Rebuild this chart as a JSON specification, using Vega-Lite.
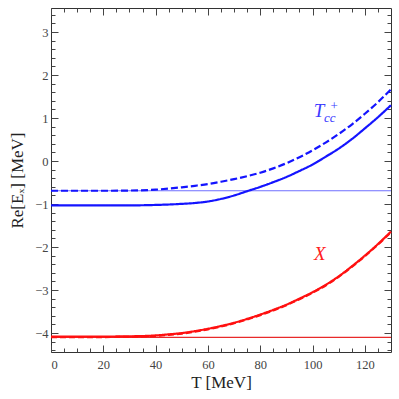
{
  "$schema": "https://vega.github.io/schema/vega-lite/v6.json",
  "width": 340,
  "height": 344,
  "autosize": {"type": "none"},
  "padding": {"left": 51, "top": 8, "right": 8, "bottom": 47},
  "background": "white",
  "config": {
    "view": {"stroke": "#333333", "strokeWidth": 1},
    "axis": {
      "grid": false,
      "domain": false,
      "labelFont": "Liberation Serif",
      "titleFont": "Liberation Serif",
      "tickColor": "#444444",
      "labelColor": "#444444",
      "titleColor": "#222222",
      "labelFontSize": 12.5,
      "titleFontSize": 17,
      "titleFontWeight": "normal",
      "tickWidth": 1
    }
  },
  "datasets": {
    "curves": [
      {"series": "Tcc", "T": 0, "v": -1.03}, {"series": "Tcc", "T": 10, "v": -1.03}, {"series": "Tcc", "T": 20, "v": -1.03},
      {"series": "Tcc", "T": 30, "v": -1.03}, {"series": "Tcc", "T": 40, "v": -1.02}, {"series": "Tcc", "T": 45, "v": -1.01},
      {"series": "Tcc", "T": 50, "v": -0.995}, {"series": "Tcc", "T": 55, "v": -0.975}, {"series": "Tcc", "T": 60, "v": -0.94},
      {"series": "Tcc", "T": 65, "v": -0.88}, {"series": "Tcc", "T": 70, "v": -0.80}, {"series": "Tcc", "T": 75, "v": -0.70},
      {"series": "Tcc", "T": 80, "v": -0.60}, {"series": "Tcc", "T": 85, "v": -0.49}, {"series": "Tcc", "T": 90, "v": -0.37},
      {"series": "Tcc", "T": 95, "v": -0.23}, {"series": "Tcc", "T": 100, "v": -0.08}, {"series": "Tcc", "T": 105, "v": 0.10},
      {"series": "Tcc", "T": 110, "v": 0.29}, {"series": "Tcc", "T": 115, "v": 0.51}, {"series": "Tcc", "T": 120, "v": 0.76},
      {"series": "Tcc", "T": 125, "v": 1.02}, {"series": "Tcc", "T": 130, "v": 1.30},
      {"series": "Tcc_dash", "T": 0, "v": -0.69}, {"series": "Tcc_dash", "T": 10, "v": -0.69}, {"series": "Tcc_dash", "T": 20, "v": -0.69},
      {"series": "Tcc_dash", "T": 30, "v": -0.685}, {"series": "Tcc_dash", "T": 40, "v": -0.665}, {"series": "Tcc_dash", "T": 45, "v": -0.64},
      {"series": "Tcc_dash", "T": 50, "v": -0.61}, {"series": "Tcc_dash", "T": 55, "v": -0.575}, {"series": "Tcc_dash", "T": 60, "v": -0.535},
      {"series": "Tcc_dash", "T": 65, "v": -0.48}, {"series": "Tcc_dash", "T": 70, "v": -0.42}, {"series": "Tcc_dash", "T": 75, "v": -0.35},
      {"series": "Tcc_dash", "T": 80, "v": -0.27}, {"series": "Tcc_dash", "T": 85, "v": -0.17}, {"series": "Tcc_dash", "T": 90, "v": -0.05},
      {"series": "Tcc_dash", "T": 95, "v": 0.09}, {"series": "Tcc_dash", "T": 100, "v": 0.25}, {"series": "Tcc_dash", "T": 105, "v": 0.43},
      {"series": "Tcc_dash", "T": 110, "v": 0.63}, {"series": "Tcc_dash", "T": 115, "v": 0.85}, {"series": "Tcc_dash", "T": 120, "v": 1.10},
      {"series": "Tcc_dash", "T": 125, "v": 1.37}, {"series": "Tcc_dash", "T": 130, "v": 1.67},
      {"series": "X", "T": 0, "v": -4.08}, {"series": "X", "T": 10, "v": -4.08}, {"series": "X", "T": 20, "v": -4.08},
      {"series": "X", "T": 30, "v": -4.075}, {"series": "X", "T": 40, "v": -4.055}, {"series": "X", "T": 45, "v": -4.03},
      {"series": "X", "T": 50, "v": -4.0}, {"series": "X", "T": 55, "v": -3.955}, {"series": "X", "T": 60, "v": -3.90},
      {"series": "X", "T": 65, "v": -3.835}, {"series": "X", "T": 70, "v": -3.76}, {"series": "X", "T": 75, "v": -3.67},
      {"series": "X", "T": 80, "v": -3.57}, {"series": "X", "T": 85, "v": -3.46}, {"series": "X", "T": 90, "v": -3.34},
      {"series": "X", "T": 95, "v": -3.20}, {"series": "X", "T": 100, "v": -3.05}, {"series": "X", "T": 105, "v": -2.88},
      {"series": "X", "T": 110, "v": -2.68}, {"series": "X", "T": 115, "v": -2.45}, {"series": "X", "T": 120, "v": -2.20},
      {"series": "X", "T": 125, "v": -1.93}, {"series": "X", "T": 130, "v": -1.64},
      {"series": "X_dash", "T": 0, "v": -4.092}, {"series": "X_dash", "T": 10, "v": -4.092}, {"series": "X_dash", "T": 20, "v": -4.092},
      {"series": "X_dash", "T": 30, "v": -4.087}, {"series": "X_dash", "T": 40, "v": -4.067}, {"series": "X_dash", "T": 45, "v": -4.042},
      {"series": "X_dash", "T": 50, "v": -4.012}, {"series": "X_dash", "T": 55, "v": -3.967}, {"series": "X_dash", "T": 60, "v": -3.912},
      {"series": "X_dash", "T": 65, "v": -3.847}, {"series": "X_dash", "T": 70, "v": -3.772}, {"series": "X_dash", "T": 75, "v": -3.682},
      {"series": "X_dash", "T": 80, "v": -3.582}, {"series": "X_dash", "T": 85, "v": -3.472}, {"series": "X_dash", "T": 90, "v": -3.352},
      {"series": "X_dash", "T": 95, "v": -3.212}, {"series": "X_dash", "T": 100, "v": -3.062}, {"series": "X_dash", "T": 105, "v": -2.892},
      {"series": "X_dash", "T": 110, "v": -2.692}, {"series": "X_dash", "T": 115, "v": -2.462}, {"series": "X_dash", "T": 120, "v": -2.212},
      {"series": "X_dash", "T": 125, "v": -1.942}, {"series": "X_dash", "T": 130, "v": -1.652}
    ],
    "refs": [
      {"ref": "Tcc", "T": 0, "v": -0.69}, {"ref": "Tcc", "T": 130, "v": -0.69},
      {"ref": "X", "T": 0, "v": -4.10}, {"ref": "X", "T": 130, "v": -4.10}
    ],
    "big": [
      {"grp": "Tcc", "T": 102.5, "v": 1.02, "label": "T"},
      {"grp": "X", "T": 102.8, "v": -2.30, "label": "X"}
    ],
    "sub": [
      {"T": 102.5, "v": 1.02, "label": "cc"}
    ],
    "sup": [
      {"T": 102.5, "v": 1.02, "label": "+"}
    ]
  },
  "layer": [
    {
      "data": {"name": "refs"},
      "mark": {"type": "line", "strokeWidth": 1.1},
      "encoding": {
        "x": {"field": "T", "type": "quantitative", "scale": {"domain": [0, 130], "nice": false, "zero": false},
          "axis": {"orient": "bottom", "values": [5, 10, 15, 25, 30, 35, 45, 50, 55, 65, 70, 75, 85, 90, 95, 105, 110, 115, 125], "labels": false, "title": null, "tickSize": -4}},
        "y": {"field": "v", "type": "quantitative", "scale": {"domain": [-4.44, 3.56], "nice": false, "zero": false},
          "axis": {"orient": "left", "values": [-4.4, -4.2, -3.8, -3.6, -3.4, -3.2, -2.8, -2.6, -2.4, -2.2, -1.8, -1.6, -1.4, -1.2, -0.8, -0.6, -0.4, -0.2, 0.2, 0.4, 0.6, 0.8, 1.2, 1.4, 1.6, 1.8, 2.2, 2.4, 2.6, 2.8, 3.2, 3.4], "labels": false, "title": null, "tickSize": -4}},
        "color": {"field": "ref", "type": "nominal", "scale": {"domain": ["Tcc", "X"], "range": ["#6f6fff", "#e82a2a"]}, "legend": null}
      }
    },
    {
      "data": {"name": "curves"},
      "mark": {"type": "line", "strokeWidth": 2.2, "interpolate": "monotone"},
      "encoding": {
        "x": {"field": "T", "type": "quantitative", "scale": {"domain": [0, 130], "nice": false, "zero": false},
          "axis": {"orient": "bottom", "values": [0, 20, 40, 60, 80, 100, 120], "tickSize": -7, "labelPadding": 13, "title": "T [MeV]", "titlePadding": 4, "format": "d"}},
        "y": {"field": "v", "type": "quantitative", "scale": {"domain": [-4.44, 3.56], "nice": false, "zero": false},
          "axis": {"orient": "left", "values": [-4, -3, -2, -1, 0, 1, 2, 3], "tickSize": -7, "labelPadding": 10, "title": "Re[Eₓ] [MeV]", "titlePadding": 8, "format": "d"}},
        "color": {"field": "series", "type": "nominal", "scale": {"domain": ["Tcc", "Tcc_dash", "X", "X_dash"], "range": ["#1414ff", "#1414ff", "#ff1010", "#ff1010"]}, "legend": null},
        "strokeDash": {"field": "series", "type": "nominal", "scale": {"domain": ["Tcc", "Tcc_dash", "X", "X_dash"], "range": [[1, 0], [7, 3], [1, 0], [6, 3]]}, "legend": null}
      }
    },
    {
      "data": {"name": "big"},
      "mark": {"type": "text", "font": "Liberation Serif", "fontStyle": "italic", "fontSize": 19, "align": "center", "baseline": "alphabetic"},
      "encoding": {
        "x": {"field": "T", "type": "quantitative", "scale": {"domain": [0, 130], "nice": false, "zero": false},
          "axis": {"orient": "top", "values": [0, 20, 40, 60, 80, 100, 120], "labels": false, "title": null, "tickSize": -7}},
        "y": {"field": "v", "type": "quantitative", "scale": {"domain": [-4.44, 3.56], "nice": false, "zero": false},
          "axis": {"orient": "right", "values": [-4, -3, -2, -1, 0, 1, 2, 3], "labels": false, "title": null, "tickSize": -7}},
        "text": {"field": "label"},
        "color": {"field": "grp", "type": "nominal", "scale": {"domain": ["Tcc", "X"], "range": ["#3a3aff", "#ff2020"]}, "legend": null}
      }
    },
    {
      "data": {"name": "sub"},
      "mark": {"type": "text", "font": "Liberation Serif", "fontStyle": "italic", "fontSize": 13, "align": "left", "baseline": "alphabetic", "dx": 5, "dy": 5, "color": "#3a3aff"},
      "encoding": {
        "x": {"field": "T", "type": "quantitative", "scale": {"domain": [0, 130], "nice": false, "zero": false},
          "axis": {"orient": "top", "values": [5, 10, 15, 25, 30, 35, 45, 50, 55, 65, 70, 75, 85, 90, 95, 105, 110, 115, 125], "labels": false, "title": null, "tickSize": -4}},
        "y": {"field": "v", "type": "quantitative", "scale": {"domain": [-4.44, 3.56], "nice": false, "zero": false},
          "axis": {"orient": "right", "values": [-4.4, -4.2, -3.8, -3.6, -3.4, -3.2, -2.8, -2.6, -2.4, -2.2, -1.8, -1.6, -1.4, -1.2, -0.8, -0.6, -0.4, -0.2, 0.2, 0.4, 0.6, 0.8, 1.2, 1.4, 1.6, 1.8, 2.2, 2.4, 2.6, 2.8, 3.2, 3.4], "labels": false, "title": null, "tickSize": -4}},
        "text": {"field": "label"}
      }
    },
    {
      "data": {"name": "sup"},
      "mark": {"type": "text", "font": "Liberation Serif", "fontSize": 13, "align": "center", "baseline": "alphabetic", "dx": 15, "dy": -7, "color": "#3a3aff"},
      "encoding": {
        "x": {"field": "T", "type": "quantitative", "scale": {"domain": [0, 130], "nice": false, "zero": false}, "axis": null},
        "y": {"field": "v", "type": "quantitative", "scale": {"domain": [-4.44, 3.56], "nice": false, "zero": false}, "axis": null},
        "text": {"field": "label"}
      }
    }
  ],
  "resolve": {"axis": {"x": "independent", "y": "independent"}, "scale": {"color": "independent"}}
}
